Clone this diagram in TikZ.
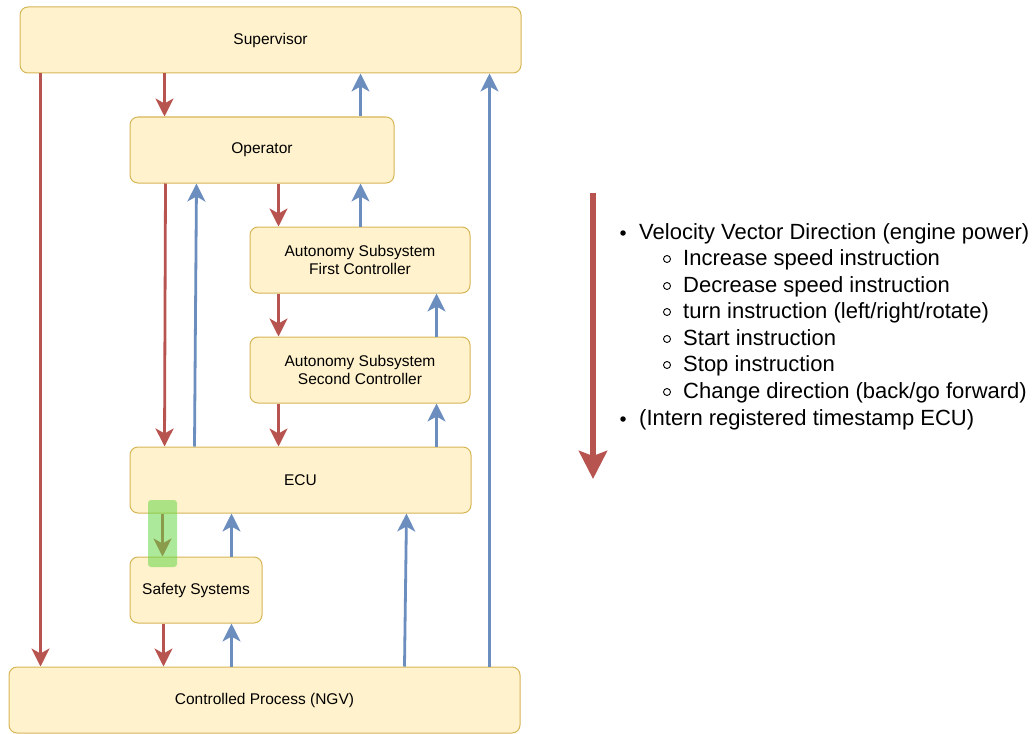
\documentclass[tikz,border=0pt]{standalone}
\usepackage{fontspec}
\setmainfont{Liberation Sans}
\usetikzlibrary{arrows.meta}
\definecolor{boxfill}{HTML}{FFF2CC}
\definecolor{boxline}{HTML}{D6B656}
\definecolor{cmdred}{HTML}{B85450}
\definecolor{fbblue}{HTML}{6C8EBF}
\definecolor{hlgreen}{RGB}{103,215,73}
\tikzset{
  block/.style={draw=boxline, fill=boxfill, line width=1pt, rounded corners=8pt,
    align=center, font=\fontsize{15.5}{18}\selectfont, inner sep=0pt},
  down/.style={draw=cmdred, line width=2.8pt, -{Stealth[length=18pt,width=18pt,inset=5pt]}},
  up/.style={draw=fbblue, line width=2.8pt, -{Stealth[length=18pt,width=18pt,inset=5pt]}},
  bigdown/.style={draw=cmdred, line width=6.5pt, -{Stealth[length=28pt,width=28pt,inset=5pt]}},
  listtext/.style={anchor=base west, inner sep=0pt, font=\fontsize{22}{26}\selectfont},
  dotbul/.style={fill=black, circle, inner sep=0pt, minimum size=5.5pt},
  ringbul/.style={draw=black, line width=0.9pt, circle, inner sep=0pt, minimum size=7pt},
}
\begin{document}
\begin{tikzpicture}[x=1pt, y=-1pt]
\useasboundingbox (0,0) rectangle (1032,733);

% blocks of the control structure
\node[block, minimum width=501pt, minimum height=66pt] (sup) at (270.5,40) {Supervisor};
\node[block, minimum width=264pt, minimum height=66pt] (op) at (262,150) {Operator};
\node[block, minimum width=220pt, minimum height=66pt] (as1) at (360,260) {Autonomy Subsystem\\First Controller};
\node[block, minimum width=220pt, minimum height=66pt] (as2) at (360,370) {Autonomy Subsystem\\Second Controller};
\node[block, minimum width=341pt, minimum height=66pt] (ecu) at (300.5,480) {ECU};
\node[block, minimum width=132pt, minimum height=66pt] (safe) at (196,590) {Safety Systems};
\node[block, minimum width=511pt, minimum height=66pt] (cp) at (264.5,700) {Controlled Process (NGV)};

% control actions (downwards)
\draw[down] ([xshift=21pt]sup.south west) -- ([xshift=32pt]cp.north west);
\draw[down] ([xshift=145pt]sup.south west) -- ([xshift=35pt]op.north west);
\draw[down] ([xshift=36pt]op.south west) -- ([xshift=35pt]ecu.north west);
\draw[down] ([xshift=149pt]op.south west) -- ([xshift=29pt]as1.north west);
\draw[down] ([xshift=29pt]as1.south west) -- ([xshift=29pt]as2.north west);
\draw[down] ([xshift=29pt]as2.south west) -- ([xshift=149pt]ecu.north west);
\draw[down] ([xshift=33pt]ecu.south west) -- ([xshift=33pt]safe.north west);
\draw[down] ([xshift=34pt]safe.south west) -- ([xshift=155pt]cp.north west);

% feedback (upwards)
\draw[up] ([xshift=231pt]op.north west) -- ([xshift=341pt]sup.south west);
\draw[up] ([xshift=481pt]cp.north west) -- ([xshift=470pt]sup.south west);
\draw[up] ([xshift=65pt]ecu.north west) -- ([xshift=67pt]op.south west);
\draw[up] ([xshift=111pt]as1.north west) -- ([xshift=231pt]op.south west);
\draw[up] ([xshift=187pt]as2.north west) -- ([xshift=187pt]as1.south west);
\draw[up] ([xshift=307pt]ecu.north west) -- ([xshift=187pt]as2.south west);
\draw[up] ([xshift=102pt]safe.north west) -- ([xshift=102pt]ecu.south west);
\draw[up] ([xshift=223pt]cp.north west) -- ([xshift=102pt]safe.south west);
\draw[up] ([xshift=396pt]cp.north west) -- ([xshift=277pt]ecu.south west);

% highlight over the ECU -> safety link
\node[fill=hlgreen, fill opacity=0.55, rounded corners=3pt, minimum width=29pt,
  minimum height=67pt, inner sep=0pt] (hl) at (162.5,533.5) {};

% legend: the command direction and its instructions
\coordinate (bigtop) at (593,193);
\coordinate (bigend) at (593,479);
\draw[bigdown] (bigtop) -- (bigend);

\node[dotbul] (b1) at (623,233) {};
\node[listtext] (l1) at (639,239) {Velocity Vector Direction (engine power)};
\node[ringbul] (r1) at (667,259) {};
\node[listtext] (l2) at (683,265) {Increase speed instruction};
\node[ringbul] (r2) at (667,286) {};
\node[listtext] (l3) at (683,292) {Decrease speed instruction};
\node[ringbul] (r3) at (667,312) {};
\node[listtext] (l4) at (683,318) {turn instruction (left/right/rotate)};
\node[ringbul] (r4) at (667,339) {};
\node[listtext] (l5) at (683,345) {Start instruction};
\node[ringbul] (r5) at (667,365) {};
\node[listtext] (l6) at (683,371) {Stop instruction};
\node[ringbul] (r6) at (667,392) {};
\node[listtext] (l7) at (683,398) {Change direction (back/go forward)};
\node[dotbul] (b2) at (623,419) {};
\node[listtext] (l8) at (639,425) {(Intern registered timestamp ECU)};
\end{tikzpicture}
\end{document}
